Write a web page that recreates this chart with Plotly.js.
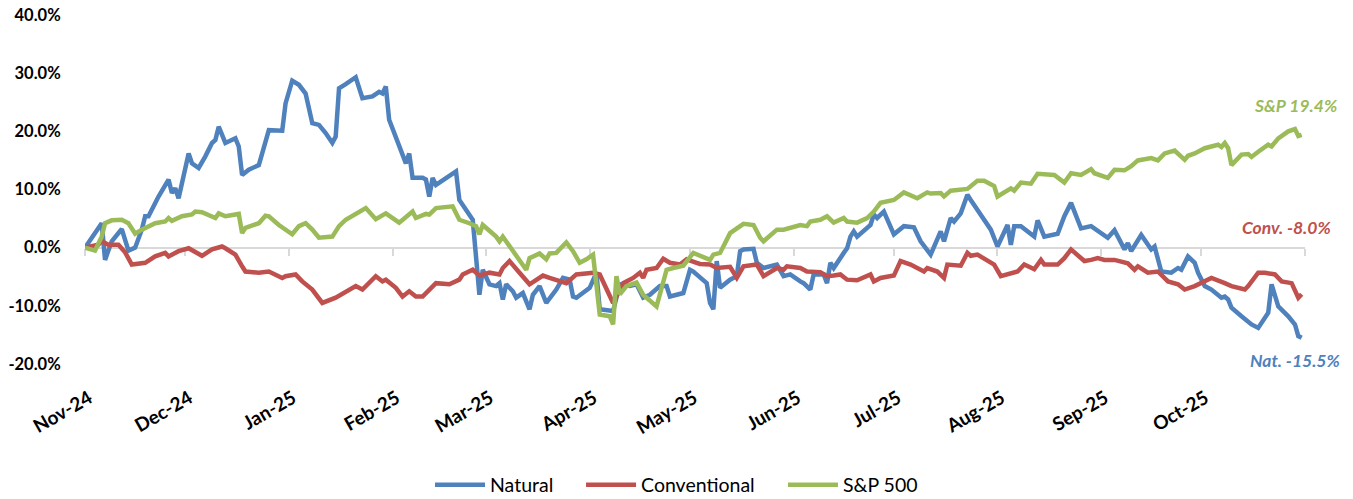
<!DOCTYPE html>
<html>
<head>
<meta charset="utf-8">
<script src="https://cdn.plot.ly/plotly-3.0.1.min.js"></script>
<style>
  html, body { margin: 0; padding: 0; background: #ffffff; }
  #chart { width: 1353px; height: 499px; }
</style>
</head>
<body>
<div id="chart"></div>
<script>
// ---- Data (cumulative return, %) ----
const natDates = ["2024-11-01","2024-11-06","2024-11-07","2024-11-09","2024-11-12","2024-11-13","2024-11-14","2024-11-16","2024-11-18","2024-11-19","2024-11-20","2024-11-23","2024-11-26","2024-11-27","2024-11-28","2024-11-29",
"2024-12-02","2024-12-03","2024-12-05","2024-12-07","2024-12-09","2024-12-10","2024-12-11","2024-12-13","2024-12-16","2024-12-17","2024-12-18","2024-12-20","2024-12-23","2024-12-26","2024-12-30","2024-12-31",
"2025-01-02","2025-01-04","2025-01-06","2025-01-08","2025-01-10","2025-01-12","2025-01-14","2025-01-15","2025-01-16","2025-01-18","2025-01-21","2025-01-23","2025-01-26","2025-01-28","2025-01-29","2025-01-30","2025-01-31",
"2025-02-05","2025-02-06","2025-02-07","2025-02-10","2025-02-11","2025-02-12","2025-02-13","2025-02-14","2025-02-20","2025-02-21","2025-02-25","2025-02-26","2025-02-27","2025-02-28",
"2025-03-02","2025-03-04","2025-03-05","2025-03-06","2025-03-07","2025-03-09","2025-03-10","2025-03-12","2025-03-14","2025-03-15","2025-03-17","2025-03-19","2025-03-22","2025-03-24","2025-03-26","2025-03-27","2025-03-28",
"2025-04-01","2025-04-03","2025-04-04","2025-04-08","2025-04-10","2025-04-13","2025-04-15","2025-04-17","2025-04-19","2025-04-22","2025-04-24","2025-04-25","2025-04-29",
"2025-05-01","2025-05-02","2025-05-04","2025-05-06","2025-05-07","2025-05-08","2025-05-09","2025-05-10","2025-05-13","2025-05-15","2025-05-16","2025-05-17","2025-05-20","2025-05-21","2025-05-23","2025-05-27","2025-05-29","2025-05-31",
"2025-06-03","2025-06-04","2025-06-06","2025-06-07","2025-06-10","2025-06-11","2025-06-12","2025-06-13","2025-06-16","2025-06-17","2025-06-18","2025-06-19","2025-06-20","2025-06-24","2025-06-25","2025-06-26","2025-06-28","2025-06-29",
"2025-07-01","2025-07-04","2025-07-07","2025-07-09","2025-07-12","2025-07-15","2025-07-16","2025-07-18","2025-07-19","2025-07-21","2025-07-23","2025-07-24","2025-07-26","2025-07-29","2025-07-30",
"2025-08-01","2025-08-04","2025-08-05","2025-08-06","2025-08-08","2025-08-12","2025-08-13","2025-08-15","2025-08-19","2025-08-21","2025-08-23","2025-08-26","2025-08-29",
"2025-09-03","2025-09-05","2025-09-08","2025-09-09","2025-09-10","2025-09-13","2025-09-16","2025-09-17","2025-09-19","2025-09-22","2025-09-24","2025-09-25","2025-09-27","2025-09-29","2025-09-30",
"2025-10-02","2025-10-04","2025-10-07","2025-10-08","2025-10-09","2025-10-10","2025-10-13","2025-10-16","2025-10-18","2025-10-21","2025-10-22","2025-10-24","2025-10-27","2025-10-29","2025-10-30","2025-10-31"];
const natValues = [0.0,4.2,-2.1,1.1,3.2,1.4,-0.5,0.0,3.1,5.4,5.4,8.8,11.7,9.4,10.2,8.5,
16.2,14.5,13.7,15.7,18.0,18.5,20.8,18.0,18.8,17.4,12.5,13.4,14.2,20.2,20.1,24.8,
28.7,28.0,26.5,21.4,21.1,19.7,18.0,19.1,27.4,28.1,29.3,25.7,26.0,26.8,26.5,27.7,22.0,
14.5,16.2,12.0,12.0,11.7,8.8,12.0,10.8,13.1,8.2,4.8,-2.1,-8.1,-3.8,
-6.3,-6.6,-6.1,-8.9,-6.3,-7.5,-8.6,-7.8,-10.6,-8.1,-6.6,-9.5,-7.2,-5.2,-5.5,-8.4,-8.6,
-6.9,-4.3,-10.6,-10.9,-6.3,-6.6,-6.3,-8.6,-8.1,-6.6,-6.6,-8.4,-7.8,
-3.8,-4.1,-5.2,-6.1,-9.5,-10.6,-2.3,-6.9,-5.5,-4.9,-0.6,-0.3,-0.2,-2.6,-3.5,-2.9,-4.9,-4.6,
-5.8,-6.1,-7.2,-4.6,-4.6,-6.1,-2.6,-3.5,-0.9,-0.1,1.9,2.8,1.9,3.9,5.7,5.1,6.2,4.8,
2.3,3.7,3.5,1.1,-1.2,2.8,1.1,5.1,4.5,5.9,9.1,8.2,6.5,4.2,3.1,
0.2,3.9,0.5,3.7,3.7,1.9,4.7,1.9,2.4,5.4,7.7,3.3,3.7,
1.7,3.0,-0.3,0.8,-0.6,2.2,-0.3,0.2,-4.1,-4.3,-3.5,-3.8,-1.5,-2.6,-4.3,
-6.6,-7.2,-8.6,-8.4,-8.9,-10.3,-11.8,-13.2,-13.8,-11.2,-6.3,-10.1,-11.8,-13.2,-15.2,-15.5];

const convDates = ["2024-11-01","2024-11-05","2024-11-06","2024-11-08","2024-11-11","2024-11-13","2024-11-15","2024-11-19","2024-11-22","2024-11-25","2024-11-26","2024-11-29",
"2024-12-02","2024-12-04","2024-12-06","2024-12-09","2024-12-12","2024-12-13","2024-12-16","2024-12-18","2024-12-19","2024-12-23","2024-12-26","2024-12-30","2024-12-31",
"2025-01-03","2025-01-05","2025-01-08","2025-01-11","2025-01-15","2025-01-18","2025-01-21","2025-01-23","2025-01-27","2025-01-29","2025-01-30",
"2025-02-02","2025-02-04","2025-02-06","2025-02-08","2025-02-10","2025-02-12","2025-02-14","2025-02-18","2025-02-21","2025-02-22","2025-02-25","2025-02-27",
"2025-03-02","2025-03-05","2025-03-06","2025-03-08","2025-03-09","2025-03-11","2025-03-14","2025-03-16","2025-03-18","2025-03-20","2025-03-23","2025-03-25","2025-03-28",
"2025-04-02","2025-04-04","2025-04-06","2025-04-08","2025-04-11","2025-04-14","2025-04-16","2025-04-17","2025-04-18","2025-04-21","2025-04-23","2025-04-25","2025-04-28","2025-04-30",
"2025-05-03","2025-05-04","2025-05-07","2025-05-09","2025-05-13","2025-05-15","2025-05-17","2025-05-21","2025-05-23","2025-05-27","2025-05-29","2025-05-30",
"2025-06-03","2025-06-05","2025-06-09","2025-06-11","2025-06-13","2025-06-15","2025-06-17","2025-06-20","2025-06-24","2025-06-25","2025-06-27","2025-06-30",
"2025-07-01","2025-07-03","2025-07-06","2025-07-10","2025-07-11","2025-07-14","2025-07-16","2025-07-17","2025-07-21","2025-07-23","2025-07-24","2025-07-26","2025-07-29","2025-07-31",
"2025-08-02","2025-08-05","2025-08-07","2025-08-09","2025-08-12","2025-08-14","2025-08-15","2025-08-19","2025-08-21","2025-08-23","2025-08-24","2025-08-27","2025-08-29","2025-08-31",
"2025-09-02","2025-09-05","2025-09-09","2025-09-11","2025-09-12","2025-09-15","2025-09-18","2025-09-21","2025-09-24","2025-09-26","2025-09-29",
"2025-10-01","2025-10-04","2025-10-08","2025-10-10","2025-10-14","2025-10-15","2025-10-18","2025-10-20","2025-10-23","2025-10-25","2025-10-28","2025-10-29","2025-10-30","2025-10-31"];
const convValues = [0.0,0.5,1.1,0.5,0.5,-0.8,-2.9,-2.6,-1.5,-0.9,-1.5,-0.6,
-0.1,-0.8,-1.4,-0.3,0.2,-0.1,-1.2,-3.2,-4.1,-4.3,-4.1,-5.2,-4.9,
-4.6,-5.8,-7.2,-9.5,-8.6,-7.5,-6.6,-7.2,-4.9,-5.8,-5.5,
-6.9,-8.4,-7.5,-8.4,-8.4,-7.2,-6.1,-6.3,-5.5,-4.6,-3.8,-4.8,
-4.3,-4.6,-3.5,-2.3,-2.9,-4.3,-6.3,-5.5,-4.8,-5.2,-5.8,-6.1,-4.6,
-4.3,-4.6,-6.9,-9.5,-6.1,-5.2,-4.3,-5.2,-3.8,-3.5,-1.9,-2.6,-2.9,-2.0,
-2.6,-2.8,-2.9,-3.5,-3.3,-5.2,-3.2,-2.9,-4.9,-3.5,-3.8,-3.2,
-3.5,-4.1,-4.2,-4.9,-4.8,-4.6,-5.5,-5.6,-4.6,-5.8,-5.2,-5.0,
-4.8,-2.3,-2.9,-4.1,-3.5,-4.1,-5.2,-2.9,-3.1,-0.9,-1.4,-1.2,-2.3,-2.9,
-4.9,-4.3,-4.1,-2.9,-3.7,-2.1,-2.9,-2.9,-1.8,-0.3,-0.8,-2.3,-2.1,-1.8,
-2.1,-2.1,-2.7,-3.8,-3.2,-4.3,-4.1,-5.8,-6.3,-7.2,-6.6,
-6.1,-5.2,-6.1,-6.6,-7.2,-6.6,-4.3,-4.3,-4.6,-5.8,-6.1,-7.5,-8.6,-8.0];

const spDates = ["2024-11-01","2024-11-04","2024-11-06","2024-11-07","2024-11-09","2024-11-12","2024-11-14","2024-11-16","2024-11-18","2024-11-22","2024-11-25","2024-11-26","2024-11-27","2024-11-30",
"2024-12-03","2024-12-04","2024-12-06","2024-12-10","2024-12-11","2024-12-13","2024-12-17","2024-12-18","2024-12-19","2024-12-23","2024-12-25","2024-12-26","2024-12-29",
"2025-01-02","2025-01-04","2025-01-06","2025-01-08","2025-01-10","2025-01-14","2025-01-16","2025-01-18","2025-01-21","2025-01-24","2025-01-27","2025-01-29","2025-01-30",
"2025-02-03","2025-02-07","2025-02-08","2025-02-11","2025-02-12","2025-02-14","2025-02-19","2025-02-21","2025-02-24","2025-02-26","2025-02-27","2025-02-28",
"2025-03-04","2025-03-05","2025-03-06","2025-03-08","2025-03-11","2025-03-13","2025-03-14","2025-03-17","2025-03-19","2025-03-20","2025-03-22","2025-03-25","2025-03-27","2025-03-29","2025-03-31",
"2025-04-02","2025-04-04","2025-04-07","2025-04-08","2025-04-09","2025-04-10","2025-04-12","2025-04-15","2025-04-17","2025-04-21","2025-04-24","2025-04-26","2025-04-29",
"2025-05-02","2025-05-07","2025-05-08","2025-05-10","2025-05-13","2025-05-15","2025-05-17","2025-05-20","2025-05-22","2025-05-23","2025-05-27","2025-05-29",
"2025-06-03","2025-06-05","2025-06-06","2025-06-09","2025-06-11","2025-06-13","2025-06-16","2025-06-17","2025-06-20","2025-06-23","2025-06-25","2025-06-27","2025-06-30",
"2025-07-01","2025-07-04","2025-07-08","2025-07-11","2025-07-12","2025-07-15","2025-07-16","2025-07-18","2025-07-23","2025-07-26","2025-07-28","2025-07-31",
"2025-08-01","2025-08-05","2025-08-06","2025-08-08","2025-08-11","2025-08-13","2025-08-18","2025-08-21","2025-08-23","2025-08-26","2025-08-29","2025-08-30",
"2025-09-03","2025-09-05","2025-09-08","2025-09-10","2025-09-12","2025-09-16","2025-09-18","2025-09-20","2025-09-23","2025-09-26","2025-09-27","2025-09-29",
"2025-10-02","2025-10-06","2025-10-07","2025-10-08","2025-10-09","2025-10-10","2025-10-13","2025-10-15","2025-10-16","2025-10-18","2025-10-21","2025-10-22","2025-10-24","2025-10-27","2025-10-29","2025-10-30","2025-10-31"];
const spValues = [0.0,-0.5,1.9,4.2,4.7,4.8,4.2,2.4,3.1,4.2,4.5,5.1,4.6,5.4,
5.7,6.2,6.1,5.1,5.9,5.4,5.8,2.5,3.4,4.2,5.5,5.4,3.9,
2.3,3.7,4.2,3.1,1.7,1.9,3.7,4.8,5.7,6.8,4.9,5.7,5.9,
4.3,6.2,5.1,5.8,5.7,6.8,7.1,4.8,4.2,3.7,2.3,3.9,
1.9,1.1,1.9,0.2,-2.3,-3.8,-1.8,-1.0,-2.0,-1.0,-0.9,0.9,-0.6,-2.6,-2.0,
-1.2,-11.5,-11.8,-13.2,-4.9,-8.0,-6.6,-6.0,-8.1,-10.1,-3.8,-3.5,-3.1,
-0.9,-2.1,-1.2,-0.9,2.5,3.4,4.1,3.9,1.7,1.1,3.1,3.1,
3.9,3.7,4.5,4.8,5.4,4.3,5.1,4.5,4.3,5.1,6.2,7.7,8.1,
8.2,9.5,8.5,9.5,9.3,9.4,8.8,9.8,10.1,11.5,11.5,10.6,
8.8,10.2,9.8,11.2,11.0,12.7,12.5,11.2,12.8,12.5,13.5,12.8,
12.0,13.4,13.3,14.0,15.0,15.4,15.0,16.2,16.7,15.1,15.8,16.2,
17.1,17.7,17.3,18.0,17.1,14.2,16.0,16.1,15.6,16.5,17.7,17.4,18.8,20.0,20.4,19.2,19.4];

const seriesNames = ["Natural", "Conventional", "S&P 500"];
const monthTicks = ["2024-11-01","2024-12-01","2025-01-01","2025-02-01","2025-03-01","2025-04-01","2025-05-01","2025-06-01","2025-07-01","2025-08-01","2025-09-01","2025-10-01"];
const yTickVals = [-20, -10, 0, 10, 20, 30, 40];
const yTickText = ["-20.0%", "-10.0%", "0.0%", "10.0%", "20.0%", "30.0%", "40.0%"];

// ---- Styling ----
const COLORS = ["#4F81BD", "#C0504D", "#9BBB59"];
const FONT = "Lato, 'Open Sans', 'DejaVu Sans', sans-serif";
const X_RANGE = ["2024-11-01", "2025-11-01"];
const LEGEND_X = [0.2828, 0.4066, 0.5721];
const last = a => a[a.length - 1];

const traces = [
  { x: natDates,  y: natValues,  name: seriesNames[0] },
  { x: convDates, y: convValues, name: seriesNames[1] },
  { x: spDates,   y: spValues,   name: seriesNames[2] }
].map((t, i) => Object.assign(t, {
  type: "scatter", mode: "lines", xaxis: "x", yaxis: "y",
  legend: i === 0 ? "legend" : "legend" + (i + 1),
  line: { color: COLORS[i], width: 4.5, shape: "linear" },
  hoverinfo: "skip"
}));
// empty trace that only registers the label axis (draws nothing)
traces.push({ type: "scatter", mode: "lines", x: [], y: [], xaxis: "x2", yaxis: "y",
  showlegend: false, hoverinfo: "skip" });

const legendBox = i => ({
  orientation: "h", x: LEGEND_X[i], xanchor: "left", y: -0.347, yanchor: "middle",
  font: { family: FONT, size: 19.5, color: "#000000" },
  itemwidth: 50, bgcolor: "rgba(0,0,0,0)"
});

const endLabel = (text, color, xp, yv) => ({
  text: "<b><i>" + text + "</i></b>", xref: "paper", yref: "y",
  x: xp, y: yv, xanchor: "right", yanchor: "middle", showarrow: false,
  font: { family: FONT, size: 17.5, color: color }
});

const layout = {
  width: 1353, height: 499,
  margin: { l: 85, r: 48, t: 15, b: 135, autoexpand: false },
  paper_bgcolor: "#ffffff", plot_bgcolor: "#ffffff",
  showlegend: true,
  legend: legendBox(0), legend2: legendBox(1), legend3: legendBox(2),
  // axis carrying the traces: drawn as the grey zero line with month tick marks
  xaxis: {
    type: "date", range: X_RANGE, anchor: "free", position: 1 / 3,
    tick0: "2024-11-01", dtick: "M1", layer: "below traces",
    showticklabels: false, showgrid: false, zeroline: false,
    showline: true, linecolor: "#D9D9D9", linewidth: 2,
    ticks: "outside", ticklen: 7, tickwidth: 2, tickcolor: "#D9D9D9",
    automargin: false, fixedrange: true
  },
  // label-only axis at the bottom of the plot
  xaxis2: {
    type: "date", range: X_RANGE, overlaying: "x", anchor: "y", side: "bottom",
    tickmode: "array", tickvals: monthTicks, tickformat: "%b-%y", tickangle: -30,
    showgrid: false, zeroline: false, showline: false,
    ticks: "outside", ticklen: 15, tickcolor: "rgba(0,0,0,0)", ticklabelshift: 4,
    tickfont: { family: FONT, size: 19, color: "#000000", weight: "bold" },
    automargin: false, fixedrange: true
  },
  yaxis: {
    range: [-20, 40], tickvals: yTickVals, ticktext: yTickText,
    showgrid: false, zeroline: false, showline: false,
    ticks: "outside", ticklen: 20, tickcolor: "rgba(0,0,0,0)",
    tickfont: { family: FONT, size: 16.5, color: "#000000", weight: "bold" },
    automargin: false, fixedrange: true
  },
  annotations: [
    endLabel("S&P " + last(spValues).toFixed(1) + "%", COLORS[2], 1.0279, 24.4),
    endLabel("Conv. " + last(convValues).toFixed(1) + "%", COLORS[1], 1.0230, 3.4),
    endLabel("Nat. " + last(natValues).toFixed(1) + "%", COLORS[0], 1.0303, -19.4)
  ]
};

Plotly.newPlot("chart", traces, layout, { displayModeBar: false, staticPlot: true });
</script>
</body>
</html>
